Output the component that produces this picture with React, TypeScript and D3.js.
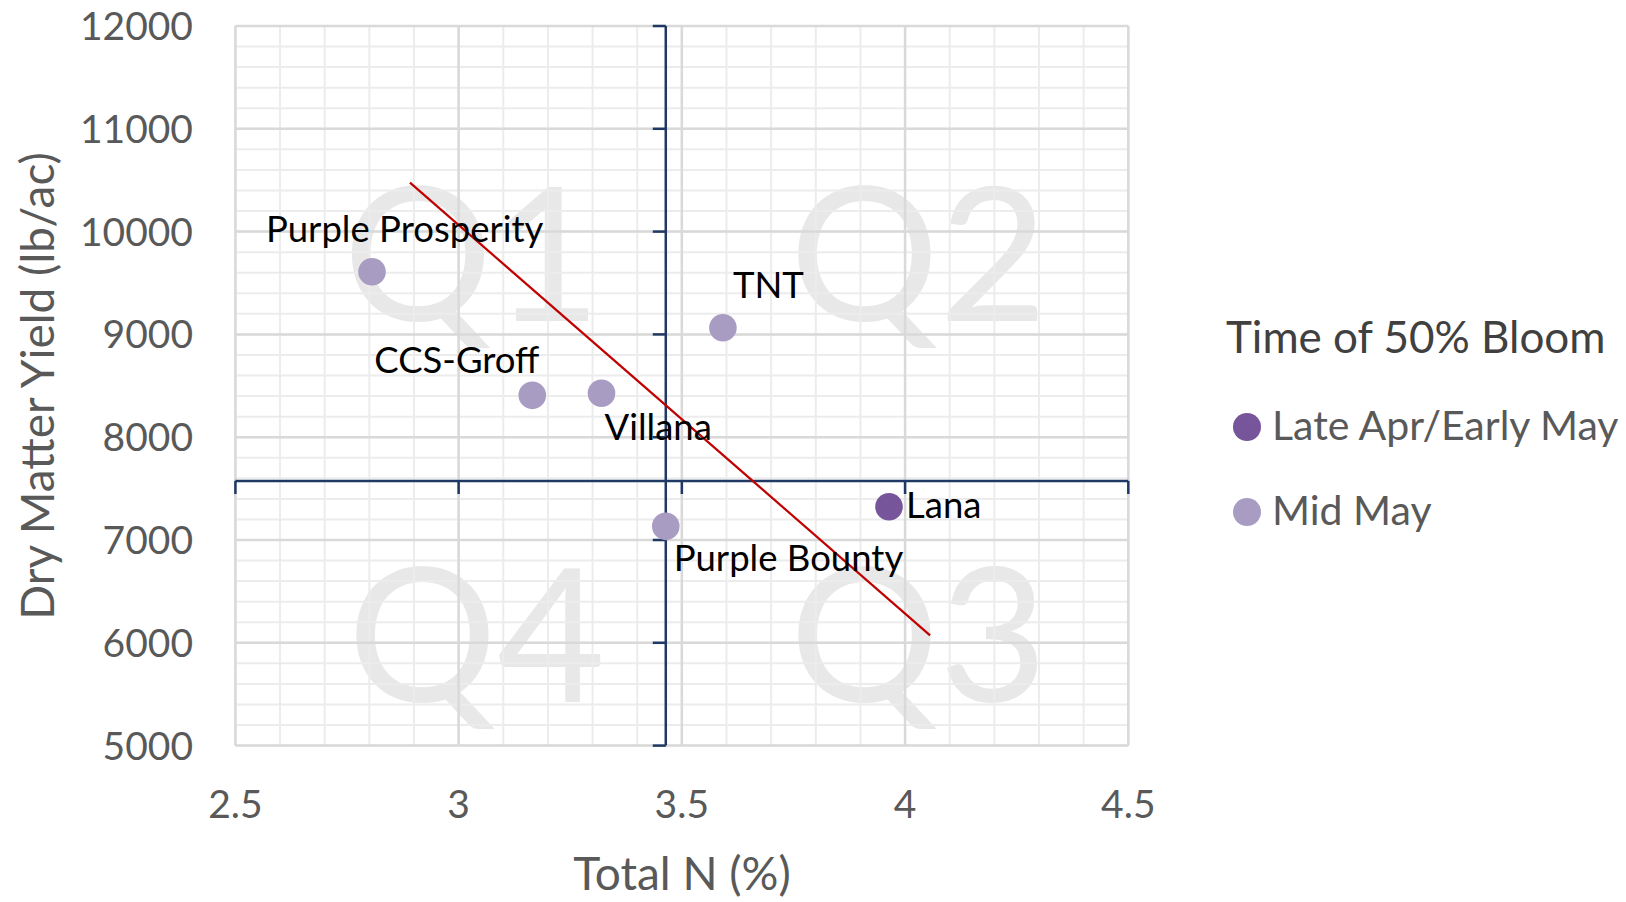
import React, { useEffect } from 'react';
import * as d3 from 'd3';

// varieties, Total N (%) and dry matter yield (lb/ac)
const varieties = ['Purple Prosperity', 'TNT', 'CCS-Groff', 'Villana', 'Lana', 'Purple Bounty'];
const totalN = [2.806, 3.592, 3.165, 3.32, 3.964, 3.464];
const dmYield = [9610, 9065, 8407, 8427, 7324, 7133];
const bloom = ['Mid May', 'Mid May', 'Mid May', 'Mid May', 'Late Apr/Early May', 'Mid May'];

const bloomGroups = ['Late Apr/Early May', 'Mid May'];
const bloomColors = ['#76559a', '#a99cc2'];

const xTicks = [2.5, 3, 3.5, 4, 4.5];
const yTicks = [5000, 6000, 7000, 8000, 9000, 10000, 11000, 12000];

// where the quadrant axes cross
const crossN = 3.464;
const crossYield = 7574;

// hand-drawn red line ends
const trendN = [2.891, 4.056];
const trendYield = [10476, 6073];

const quadrants = ['Q1', 'Q2', 'Q3', 'Q4'];
const quadN = [3.03, 4.03, 4.03, 3.04];
const quadYield = [9130, 9130, 5420, 5420];

// label offsets (px from point centre to label start/baseline)
const labelDx = [-106, 10, -158, 3, 17, 8];
const labelDy = [-30, -30, -22, 47, 11, 45];

const W = 1626;
const H = 902;
const font = 'Lato, Carlito, Calibri, sans-serif';
const axisBlue = '#203864';

export default function App() {
  useEffect(() => {
    document.body.style.margin = '0';
  }, []);

  const x = d3.scaleLinear().domain([2.5, 4.5]).range([235.4, 1128.3]);
  const y = d3.scaleLinear().domain([5000, 12000]).range([745.6, 26]);
  const color = d3.scaleOrdinal<string, string>().domain(bloomGroups).range(bloomColors);

  const minorX = d3.range(25, 46).map(v => v / 10);
  const minorY = d3.range(5000, 12001, 200);

  const trend = d3
    .line<number>()
    .x((d, i) => x(trendN[i]))
    .y((d, i) => y(trendYield[i]));

  const [x0, x1] = x.range();
  const [y0, y1] = y.range();

  return (
    <svg width={W} height={H} style={{ display: 'block', background: '#fff' }} fontFamily={font}>
      {/* quadrant watermarks */}
      {quadrants.map((q, i) => (
        <text
          key={q}
          x={x(quadN[i])}
          y={y(quadYield[i])}
          textAnchor="middle"
          fontSize={187}
          fill="#e8e8e8"
        >
          {q}
        </text>
      ))}

      {/* minor grid */}
      <g stroke="#ececec" strokeWidth={2}>
        {minorX.map(v => (
          <line key={'mx' + v} x1={x(v)} x2={x(v)} y1={y1} y2={y0} />
        ))}
        {minorY.map(v => (
          <line key={'my' + v} x1={x0} x2={x1} y1={y(v)} y2={y(v)} />
        ))}
      </g>
      {/* major grid */}
      <g stroke="#d9d9d9" strokeWidth={2.5}>
        {xTicks.map(v => (
          <line key={'gx' + v} x1={x(v)} x2={x(v)} y1={y1} y2={y0} />
        ))}
        {yTicks.map(v => (
          <line key={'gy' + v} x1={x0} x2={x1} y1={y(v)} y2={y(v)} />
        ))}
      </g>

      {/* quadrant axes */}
      <g stroke={axisBlue} strokeWidth={2.5}>
        <line x1={x(crossN)} x2={x(crossN)} y1={y1} y2={y0} />
        {yTicks.map(v => (
          <line key={'ty' + v} x1={x(crossN) - 13} x2={x(crossN)} y1={y(v)} y2={y(v)} />
        ))}
        <line x1={x0} x2={x1} y1={y(crossYield)} y2={y(crossYield)} />
        {xTicks.map(v => (
          <line key={'tx' + v} x1={x(v)} x2={x(v)} y1={y(crossYield)} y2={y(crossYield) + 13} />
        ))}
      </g>

      {/* tick labels */}
      <g fill="#595959" fontSize={39}>
        {yTicks.map(v => (
          <text key={'ly' + v} x={193} y={y(v)} dy="0.36em" textAnchor="end">
            {v}
          </text>
        ))}
        {xTicks.map(v => (
          <text key={'lx' + v} x={x(v)} y={818} textAnchor="middle">
            {v}
          </text>
        ))}
      </g>

      {/* axis titles */}
      <text x={682} y={890} textAnchor="middle" fontSize={46} fill="#595959">
        Total N (%)
      </text>
      <text
        transform="translate(54,386) rotate(-90)"
        textAnchor="middle"
        fontSize={46}
        fill="#595959"
      >
        Dry Matter Yield (lb/ac)
      </text>

      {/* red line */}
      <path d={trend(trendN) || ''} stroke="#c00000" strokeWidth={2.2} fill="none" />

      {/* points */}
      {varieties.map((v, i) => (
        <circle key={v} cx={x(totalN[i])} cy={y(dmYield[i])} r={13.8} fill={color(bloom[i])} />
      ))}

      {/* data labels */}
      <g fontSize={36.5} fill="#000">
        {varieties.map((v, i) => (
          <text key={'dl' + v} x={x(totalN[i]) + labelDx[i]} y={y(dmYield[i]) + labelDy[i]}>
            {v}
          </text>
        ))}
      </g>

      {/* legend */}
      <text x={1226} y={353} fontSize={44} fill="#404040">
        Time of 50% Bloom
      </text>
      {bloomGroups.map((g, i) => (
        <g key={g} transform={`translate(0,${i * 85})`}>
          <circle cx={1247} cy={427} r={14} fill={color(g)} />
          <text x={1272} y={440} fontSize={41} fill="#595959">
            {g}
          </text>
        </g>
      ))}
    </svg>
  );
}
